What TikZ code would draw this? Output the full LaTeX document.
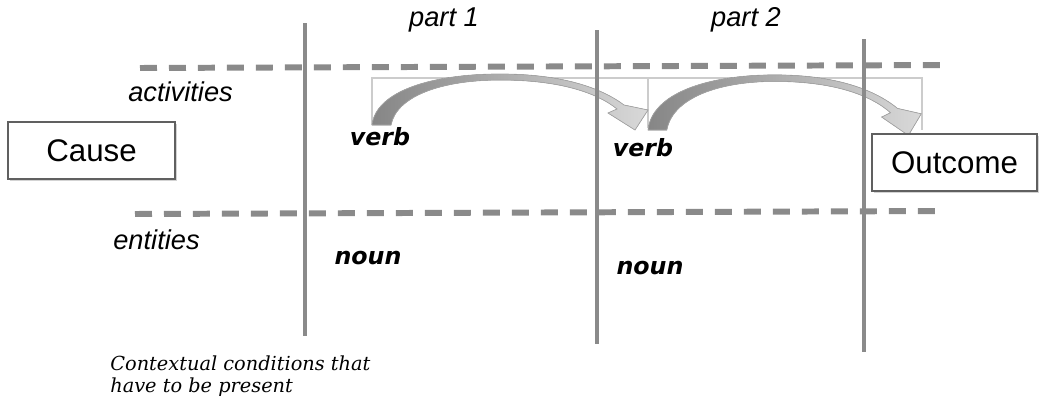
\documentclass[tikz,border=0pt]{standalone}
\usepackage{fontspec}
\setmainfont{Liberation Sans}
\newfontfamily\wordfont{DejaVu Sans}
\newfontfamily\notefont{DejaVu Serif}
\usetikzlibrary{positioning,shadows}

\definecolor{linegray}{HTML}{8A8A8A}
\definecolor{framegray}{HTML}{CCCCCC}

% curved block arrow, origin at the outer foot of its tail
\newcommand{\bentarrow}{%
  (0,0) .. controls (4,-34) and (60,-51) .. (128,-51)
        .. controls (188,-51) and (228,-38) .. (252,-20)
  -- (276,-15) -- (263,5) -- (236,-12) -- (245,-16)
        .. controls (224,-33) and (186,-45) .. (128,-45)
        .. controls (72,-45) and (25,-30) .. (19,0) -- cycle}

\begin{document}
\begin{tikzpicture}[x=0.02cm, y=-0.02cm,
    rule/.style={linegray, line width=2.8pt},
    level/.style={linegray, line width=3.4pt, dash pattern=on 0.34cm off 0.24cm},
    frame/.style={framegray, line width=0.6pt},
    endbox/.style={rectangle, draw=gray!75!black, fill=white, line width=0.6pt,
        minimum width=3.34cm, minimum height=1.14cm, font=\fontsize{17.8}{20}\selectfont,
        drop shadow={shadow xshift=1pt, shadow yshift=-1pt, opacity=0.35}},
    tag/.style={font=\fontsize{15.5}{18}\selectfont\itshape, inner sep=0pt},
    word/.style={font=\wordfont\fontsize{13.5}{16}\selectfont\bfseries\itshape, inner sep=0pt},
    bent/.style={draw=gray!70, line width=0.4pt, left color=gray!95, right color=gray!30}
]
\useasboundingbox (0,0) rectangle (1039,406);

% frames of the two arrows
\draw[frame] (372,125) -- (372,78) -- (648,78) -- (648,128);
\draw[frame] (648,78) -- (922,78) -- (922,130);

% arrows between the parts
\fill[bent, shift={(372,125)}] \bentarrow;
\fill[bent, shift={(648,130)}, yscale=1.08, xscale=0.99] \bentarrow;

% levels
\coordinate (acta) at (140,68);
\coordinate (actb) at (950,65);
\coordinate (enta) at (135,214);
\coordinate (entb) at (945,211);
\draw[level] (acta) -- (actb);
\draw[level] (enta) -- (entb);

% borders of the parts
\coordinate (r1a) at (305,23);  \coordinate (r1b) at (305,336);
\coordinate (r2a) at (597,30);  \coordinate (r2b) at (597,344);
\coordinate (r3a) at (864,39);  \coordinate (r3b) at (864,352);
\draw[rule] (r1a) -- (r1b);
\draw[rule] (r2a) -- (r2b);
\draw[rule] (r3a) -- (r3b);

% ends
\node[endbox] (cause) at (91.5,150.5) {Cause};
\node[endbox, minimum width=3.3cm] (outcome) at (954.5,162.5) {Outcome};

% labels
\node[tag] (part1) at (444,20) {part 1};
\node[tag] (part2) at (746,20) {part 2};
\node[tag, anchor=west] (act) at (128,92) {activities};
\node[tag, anchor=west] (ent) at (113,240) {entities};

\node[word] (verb1) at (380,137) {verb};
\node[word] (verb2) at (643,148) {verb};
\node[word] (noun1) at (368,258) {noun};
\node[word] (noun2) at (650,268) {noun};

\node[anchor=north west, align=left, inner sep=0pt,
      font=\notefont\fontsize{11}{13}\selectfont\itshape] (note) at (110,355)
  {Contextual conditions that\\have to be present};

\end{tikzpicture}
\end{document}
